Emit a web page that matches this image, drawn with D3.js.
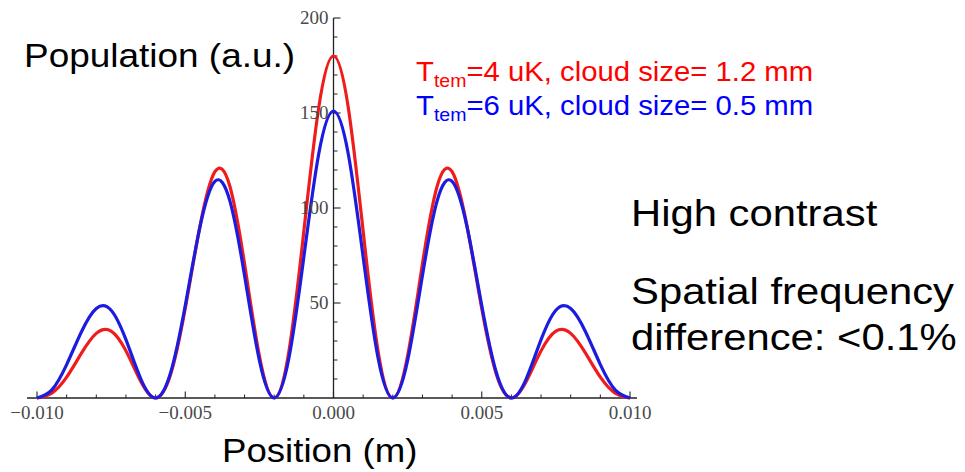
<!DOCTYPE html>
<html>
<head>
<meta charset="utf-8">
<script src="https://cdn.jsdelivr.net/npm/d3@7"></script>
<style>
  html, body { margin: 0; padding: 0; background: #fff; }
  svg { display: block; }
</style>
</head>
<body>
<svg id="chart" width="965" height="472"></svg>
<script>
// ---- data ----
const positions = [-0.010, -0.0095, -0.009, -0.0085, -0.008, -0.0075, -0.007, -0.0065, -0.006, -0.0055,
  -0.005, -0.0045, -0.004, -0.0035, -0.003, -0.0025, -0.002, -0.0015, -0.001, -0.0005,
  0, 0.0005, 0.001, 0.0015, 0.002, 0.0025, 0.003, 0.0035, 0.004, 0.0045,
  0.005, 0.0055, 0.006, 0.0065, 0.007, 0.0075, 0.008, 0.0085, 0.009, 0.0095, 0.010];
const redValues = [0, 2.6, 11.0, 23.6, 34.0, 35.2, 24.8, 8.7, 0, 12.1,
  47.1, 90.7, 119.1, 111.7, 70.6, 22.2, 0, 24.9, 87.8, 152.7,
  180, 152.7, 87.8, 24.9, 0, 22.2, 70.6, 111.7, 119.1, 90.7,
  47.1, 12.1, 0, 8.7, 24.8, 35.2, 34.0, 23.6, 11.0, 2.6, 0];
const blueValues = [0, 4.3, 17.6, 34.9, 47.1, 46.2, 30.7, 10.1, 0, 13.0,
  48.7, 90.3, 114.0, 104.0, 64.5, 19.8, 0, 21.3, 74.2, 128.3,
  151, 128.3, 74.2, 21.3, 0, 19.8, 64.5, 104.0, 114.0, 90.3,
  48.7, 13.0, 0, 10.1, 30.7, 46.2, 47.1, 34.9, 17.6, 4.3, 0];
const xMajorTicks = [-0.010, -0.005, 0.000, 0.005, 0.010];
const xTickLabels = ["\u22120.010", "\u22120.005", "0.000", "0.005", "0.010"];
const xMinorTicks = [-0.009, -0.008, -0.007, -0.006, -0.004, -0.003, -0.002, -0.001,
  0.001, 0.002, 0.003, 0.004, 0.006, 0.007, 0.008, 0.009];
const yMajorTicks = [50, 100, 150, 200];
const yMinorTicks = [10, 20, 30, 40, 60, 70, 80, 90, 110, 120, 130, 140, 160, 170, 180, 190];
const seriesNames = ["=4 uK, cloud size= 1.2 mm", "=6 uK, cloud size= 0.5 mm"];

// ---- drawing ----
const svg = d3.select("#chart");
const x = d3.scaleLinear().domain([-0.01, 0.01]).range([37, 630]);
const y = d3.scaleLinear().domain([0, 200]).range([398, 18]);

const axisColor = "#222";
const labelColor = "#4a4a4a";
const serif = "'Liberation Serif', 'DejaVu Serif', serif";
const sans = "'Liberation Sans', Arial, sans-serif";

// x axis line
svg.append("line")
  .attr("x1", 27).attr("x2", 637)
  .attr("y1", y(0)).attr("y2", y(0))
  .attr("stroke", axisColor).attr("stroke-width", 1.3);

// x ticks (pointing up)
svg.selectAll(".xmaj").data(xMajorTicks).enter().append("line")
  .attr("x1", d => x(d)).attr("x2", d => x(d))
  .attr("y1", y(0)).attr("y2", y(0) - 6.5)
  .attr("stroke", axisColor).attr("stroke-width", 1.1);
svg.selectAll(".xmin").data(xMinorTicks).enter().append("line")
  .attr("x1", d => x(d)).attr("x2", d => x(d))
  .attr("y1", y(0)).attr("y2", y(0) - 3.5)
  .attr("stroke", axisColor).attr("stroke-width", 1);

svg.selectAll(".xlab").data(xMajorTicks).enter().append("text")
  .attr("x", d => x(d)).attr("y", 419)
  .attr("text-anchor", "middle")
  .attr("font-family", serif).attr("font-size", 19)
  .attr("fill", labelColor)
  .text((d, i) => xTickLabels[i]);

// y axis line
svg.append("line")
  .attr("x1", x(0)).attr("x2", x(0))
  .attr("y1", y(0)).attr("y2", y(200))
  .attr("stroke", axisColor).attr("stroke-width", 1.3);

svg.selectAll(".ymaj").data(yMajorTicks).enter().append("line")
  .attr("x1", x(0)).attr("x2", x(0) + 7)
  .attr("y1", d => y(d)).attr("y2", d => y(d))
  .attr("stroke", axisColor).attr("stroke-width", 1.1);
svg.selectAll(".ymin").data(yMinorTicks).enter().append("line")
  .attr("x1", x(0)).attr("x2", x(0) + 4)
  .attr("y1", d => y(d)).attr("y2", d => y(d))
  .attr("stroke", axisColor).attr("stroke-width", 1);

// curves
const line = d3.line().curve(d3.curveNatural);
const redPts = positions.map((p, i) => [x(p), y(redValues[i])]);
const bluePts = positions.map((p, i) => [x(p), y(blueValues[i])]);

svg.append("path").attr("d", line(redPts))
  .attr("fill", "none").attr("stroke", "#f01c1c")
  .attr("stroke-width", 3.2).attr("stroke-linejoin", "round");
svg.append("path").attr("d", line(bluePts))
  .attr("fill", "none").attr("stroke", "#1c1ce0")
  .attr("stroke-width", 3.2).attr("stroke-linejoin", "round");

// y tick labels (drawn over curves like the reference)
svg.selectAll(".ylab").data(yMajorTicks).enter().append("text")
  .attr("x", x(0) - 5).attr("y", d => y(d) + 6)
  .attr("text-anchor", "end")
  .attr("font-family", serif).attr("font-size", 19)
  .attr("fill", labelColor)
  .text(d => d);

// horizontally stretched text helper (the reference is slightly widened)
function stretchedText(tx, ty, sx, size, color) {
  return svg.append("text")
    .attr("transform", `translate(${tx},${ty}) scale(${sx},1)`)
    .attr("font-family", sans).attr("font-size", size).attr("fill", color);
}

// axis titles
stretchedText(24, 67, 1.12, 33, "#000").text("Population (a.u.)");
stretchedText(222, 462, 1.11, 33, "#000").text("Position (m)");

// legend
const legendColors = ["#ff0000", "#0000ff"];
const legendY = [81, 115];
seriesNames.forEach((name, i) => {
  const t = stretchedText(416, legendY[i], 1.085, 27, legendColors[i]);
  t.append("tspan").text("T");
  t.append("tspan").attr("font-size", 18).attr("dy", 6).text("tem");
  t.append("tspan").attr("dy", -6).text(name);
});

// annotations
const notes = [["High contrast", 226], ["Spatial frequency", 304], ["difference: <0.1%", 350]];
notes.forEach(([txt, yy]) => {
  stretchedText(631, yy, 1.13, 37, "#000").text(txt);
});
</script>
</body>
</html>
